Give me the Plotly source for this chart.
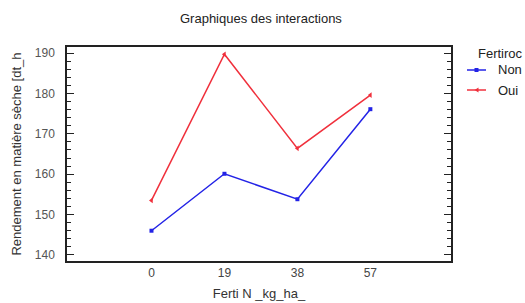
import plotly.graph_objects as go

ferti_n = [0, 19, 38, 57]
tick_labels = ["0", "19", "38", "57"]
y_ticks = [140, 150, 160, 170, 180, 190]
non_values = [146.0, 160.1, 153.8, 176.1]
oui_values = [153.5, 189.7, 166.4, 179.6]
series_names = ["Non", "Oui"]
series_colors = ["#2323e6", "#f0303c"]

font = "Liberation Sans, Arial, sans-serif"
tick_font = "Liberation Sans Narrow, Arial Narrow, Liberation Sans, Arial, sans-serif"

# plot area in pixels (for legend placement)
L, R, T, B, W, H = 67, 74, 47, 42, 525, 303
PW, PH = W - L - R, H - T - B


def px(x):
    return (x - L) / PW


def py(y):
    return (H - B - y) / PH


fig = go.Figure()
fig.add_trace(go.Scatter(
    x=ferti_n, y=non_values, name=series_names[0], mode="lines+markers",
    line=dict(color=series_colors[0], width=1.5),
    marker=dict(symbol="square", size=4, color=series_colors[0]),
))
fig.add_trace(go.Scatter(
    x=ferti_n, y=oui_values, name=series_names[1], mode="lines+markers",
    line=dict(color=series_colors[1], width=1.5),
    marker=dict(symbol="triangle-left", size=5, color=series_colors[1]),
))

# manual legend (keys + labels)
shapes = []
annotations = [dict(
    text="Fertiroc", xref="paper", yref="paper", x=px(500), y=py(53),
    xanchor="center", yanchor="middle", showarrow=False,
    font=dict(size=13, color="#222222"),
)]
for i, (name, col) in enumerate(zip(series_names, series_colors)):
    yy = 70 + 20 * i
    shapes.append(dict(type="line", xref="paper", yref="paper",
                       x0=px(467), x1=px(486), y0=py(yy), y1=py(yy),
                       line=dict(color=col, width=1.5)))
    if i == 0:
        shapes.append(dict(type="rect", xref="paper", yref="paper",
                           x0=px(474.5), x1=px(478.5), y0=py(yy - 2), y1=py(yy + 2),
                           fillcolor=col, line=dict(width=0)))
    else:
        shapes.append(dict(type="path", xref="paper", yref="paper",
                           path=f"M {px(474.5)},{py(yy)} L {px(478.5)},{py(yy - 2.5)} "
                                f"L {px(478.5)},{py(yy + 2.5)} Z",
                           fillcolor=col, line=dict(width=0)))
    annotations.append(dict(
        text=name, xref="paper", yref="paper", x=px(496), y=py(yy),
        xanchor="left", yanchor="middle", showarrow=False,
        font=dict(size=13, color="#222222"),
    ))

fig.update_layout(
    width=W, height=H,
    paper_bgcolor="white", plot_bgcolor="white",
    margin=dict(l=L, r=R, t=T, b=B, autoexpand=False),
    font=dict(family=font, size=13, color="#333333"),
    title=dict(text="Graphiques des interactions", x=0.497, xanchor="center",
               y=1 - 18 / H, yanchor="middle", font=dict(size=13, color="#222222")),
    showlegend=False,
    shapes=shapes,
    annotations=annotations,
    xaxis=dict(
        range=[-22, 78], tickvals=ferti_n, ticktext=tick_labels,
        showgrid=False, zeroline=False, showline=True, mirror=True,
        linecolor="#222222", linewidth=1.5, ticks="",
        title=dict(text="Ferti N _kg_ha_", standoff=10, font=dict(size=13)),
        tickfont=dict(size=12, family=tick_font, color="#444444"),
    ),
    yaxis=dict(
        range=[138.5, 191.5], tickvals=y_ticks,
        showgrid=False, zeroline=False, showline=True, mirror="allticks",
        linecolor="#222222", linewidth=1.5, ticks="inside", ticklen=7,
        tickcolor="#222222", tickwidth=1, ticklabelstandoff=8,
        minor=dict(ticks="inside", ticklen=4, dtick=2, tickcolor="#222222", tickwidth=1),
        title=dict(text="Rendement en matière sèche [dt_h", standoff=10, font=dict(size=13)),
        tickfont=dict(size=12, family=tick_font, color="#555555"),
    ),
)

fig.write_html("out.html", config={"displayModeBar": False},
               post_script="document.body.style.margin='0px';")
